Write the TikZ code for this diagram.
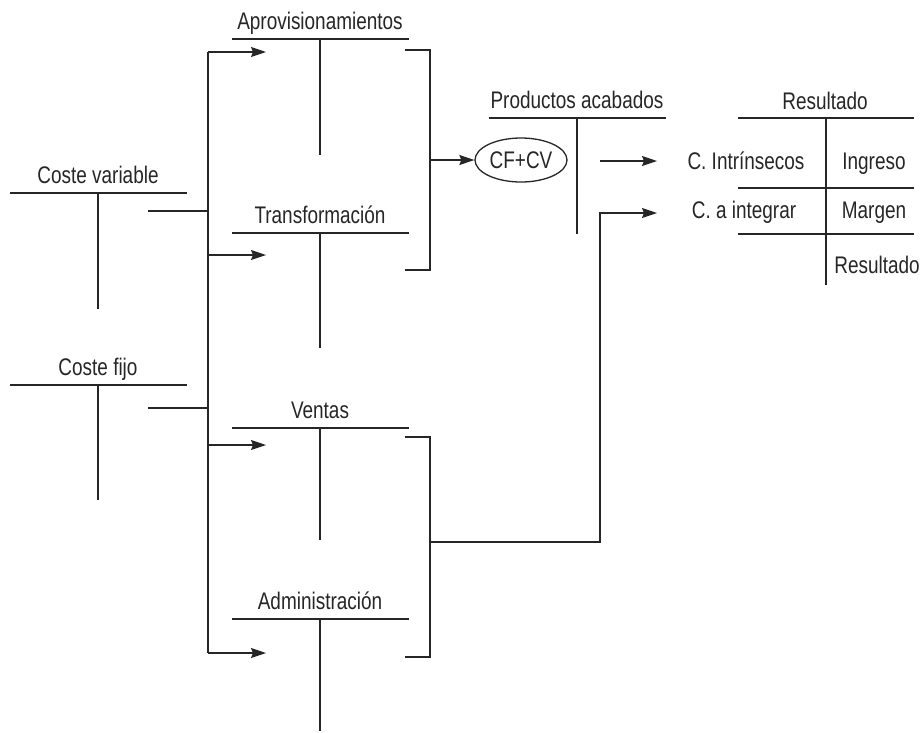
\documentclass[tikz,border=0pt]{standalone}
\usepackage{fontspec}
\setmainfont{Liberation Sans}[FakeStretch=0.79]
\usetikzlibrary{arrows.meta,shapes.geometric}
\begin{document}
\begin{tikzpicture}[x=1pt,y=-1pt,
  ln/.style={line width=1.3pt,draw=black!85},
  arr/.style={ln,-{Stealth[length=15pt,width=10pt,inset=2pt]}},
  lbl/.style={font=\fontsize{24}{26}\selectfont,anchor=base,inner sep=0pt,text=black!85}]
\useasboundingbox (0,0) rectangle (920,732);
% --- T accounts: title, top line, vertical stem
\newcommand{\taccount}[6]{% name, x1, x2, xm, yline, ybottom
  \draw[ln] (#2,#5) -- (#3,#5);
  \draw[ln] (#4,#5) -- (#4,#6);
}
% Coste variable
\node[lbl] (cv) at (98,183) {Coste variable};
\taccount{cv}{10}{187}{98}{193}{309}
% Coste fijo
\node[lbl] (cfj) at (98,375) {Coste fijo};
\taccount{cfj}{10}{187}{98}{385}{500}
% Aprovisionamientos
\node[lbl] (apr) at (320,29) {Aprovisionamientos};
\taccount{apr}{232}{409}{320}{39}{155}
% Transformacion
\node[lbl] (tra) at (320,223) {Transformación};
\taccount{tra}{232}{409}{320}{233}{348}
% Ventas
\node[lbl] (ven) at (320,418) {Ventas};
\taccount{ven}{232}{409}{320}{428}{540}
% Administracion
\node[lbl] (adm) at (320,609) {Administración};
\taccount{adm}{232}{409}{320}{619}{731}
% Productos acabados
\node[lbl] (pa) at (577,108) {Productos acabados};
\taccount{pa}{489}{666}{577}{118}{234}
% Resultado
\node[lbl] (res) at (825,109) {Resultado};
\draw[ln] (738,118) -- (914,118);
\draw[ln] (738,188) -- (914,188);
\draw[ln] (738,234) -- (914,234);
\draw[ln] (826,118) -- (826,285);
\node[lbl] (ci) at (746,169) {C. Intrínsecos};
\node[lbl] (ing) at (874,169) {Ingreso};
\node[lbl] (cai) at (744,218) {C. a integrar};
\node[lbl] (mar) at (874,218) {Margen};
\node[lbl] (res2) at (877,273) {Resultado};
% Ellipse
\node[ellipse,draw,line width=1.3pt,draw=black!85,minimum width=92pt,minimum height=44pt,inner sep=0pt,font=\fontsize{24}{26}\selectfont,text=black!85] (cfcv) at (521,160) {CF+CV};
% Bus and coordinates
\coordinate (b1) at (208,52);
\coordinate (b2) at (208,255);
\coordinate (b3) at (208,445);
\coordinate (b4) at (208,653);
\coordinate (a1) at (266,52);
\coordinate (a2) at (266,255);
\coordinate (a3) at (266,445);
\coordinate (a4) at (266,653);
\coordinate (cvo) at (148,211);
\coordinate (cvb) at (208,211);
\coordinate (cfo) at (148,408);
\coordinate (cfb) at (208,408);
\draw[ln] (b1) -- (b4);
\draw[arr] (b1) -- (a1);
\draw[arr] (b2) -- (a2);
\draw[arr] (b3) -- (a3);
\draw[arr] (b4) -- (a4);
\draw[ln] (cvo) -- (cvb);
\draw[ln] (cfo) -- (cfb);
% Brackets
\coordinate (k1t) at (405,50);
\coordinate (k1b) at (405,270);
\coordinate (k2t) at (405,437);
\coordinate (k2b) at (405,657);
\draw[ln] (k1t) -| (430,270) -- (k1b);
\draw[ln] (k2t) -| (430,657) -- (k2b);
\coordinate (k1o) at (430,160);
\draw[arr] (k1o) -- (cfcv);
% Output arrows
\coordinate (p1) at (600,161);
\coordinate (p1e) at (657,161);
\draw[arr] (p1) -- (p1e);
\coordinate (k2o) at (430,542);
\coordinate (p2) at (600,542);
\coordinate (p2e) at (657,213);
\draw[arr] (k2o) -- (p2) |- (p2e);
\end{tikzpicture}
\end{document}
